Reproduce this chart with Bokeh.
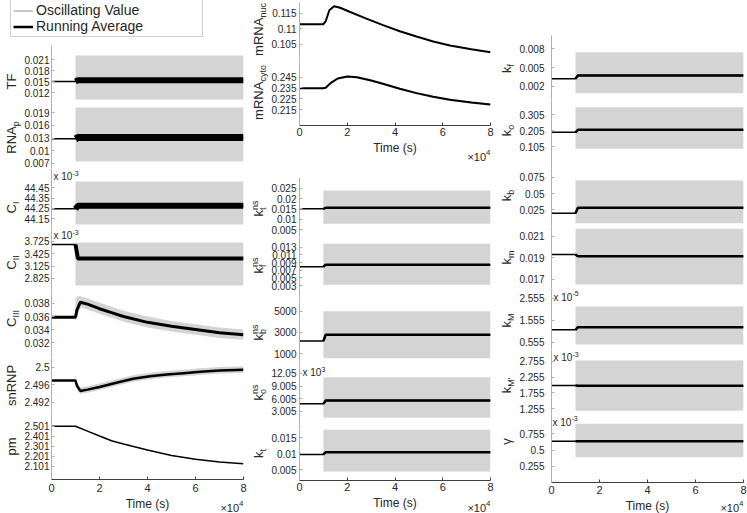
import math
from bokeh.plotting import figure
from bokeh.layouts import row, column
from bokeh.models import Range1d, FixedTicker, CustomJSTickFormatter, Label, Legend, LegendItem
from bokeh.embed import file_html
from bokeh.resources import INLINE

# ---------------- data ----------------
time_ticks = [0, 20000, 40000, 60000, 80000]
time_tick_labels = ["0", "2", "4", "6", "8"]

t_step = [0, 10000, 11000, 80000]      # running-average time points for step panels
t_band = [10000, 80000]                # span of the rapidly oscillating value

# left column
tf_avg = [0.0150, 0.0150, 0.01535, 0.01535]
tf_lo, tf_hi = [0.0101, 0.0101], [0.0221, 0.0221]
tf_ticks = [0.012, 0.015, 0.018, 0.021]
tf_labels = ["0.012", "0.015", "0.018", "0.021"]

rnap_avg = [0.0128, 0.0128, 0.0131, 0.0131]
rnap_lo, rnap_hi = [0.00747, 0.00747], [0.0202, 0.0202]
rnap_ticks = [0.007, 0.01, 0.013, 0.016, 0.019]
rnap_labels = ["0.007", "0.01", "0.013", "0.016", "0.019"]

ci_avg = [44.247, 44.247, 44.276, 44.276]          # x 10^-3
ci_lo, ci_hi = [44.095, 44.095], [44.511, 44.511]
ci_ticks = [44.15, 44.25, 44.35, 44.45]
ci_labels = ["44.15", "44.25", "44.35", "44.45"]

cii_avg = [3.652, 3.652, 3.311, 3.311]             # x 10^-3
cii_lo, cii_hi = [2.655, 2.655], [3.70, 3.70]
cii_ticks = [2.825, 3.125, 3.425, 3.725]
cii_labels = ["2.825", "3.125", "3.425", "3.725"]

t_c3 = [0, 10000, 10600, 12000, 15000, 20000, 25000, 30000, 40000, 50000, 60000, 70000, 80000]
c3_avg = [0.0359, 0.0359, 0.0370, 0.0382, 0.0379, 0.0372, 0.0366, 0.0360, 0.0351, 0.0345, 0.0340, 0.0335, 0.0332]
c3_lo = [0.0352, 0.0360, 0.0374, 0.0371, 0.0364, 0.0358, 0.0352, 0.0343, 0.0337, 0.0332, 0.0327, 0.0324]
c3_hi = [0.0388, 0.0391, 0.0391, 0.0388, 0.0381, 0.0375, 0.0369, 0.0360, 0.0353, 0.0348, 0.0343, 0.0340]
c3_ticks = [0.032, 0.034, 0.036, 0.038]
c3_labels = ["0.032", "0.034", "0.036", "0.038"]

t_sn = [0, 10000, 10600, 12000, 15000, 20000, 27000, 34000, 41000, 48000, 55000, 62000, 70000, 80000]
sn_avg = [2.4970, 2.4970, 2.4958, 2.4946, 2.4949, 2.4955, 2.4965, 2.4974, 2.4980, 2.4984, 2.4987, 2.4990, 2.4993, 2.4995]
sn_lo = [2.4962, 2.4950, 2.4939, 2.4942, 2.4948, 2.4958, 2.4967, 2.4973, 2.4977, 2.4980, 2.4983, 2.4986, 2.4988]
sn_hi = [2.4985, 2.4968, 2.4954, 2.4957, 2.4963, 2.4973, 2.4982, 2.4988, 2.4992, 2.4995, 2.4998, 2.5001, 2.5003]
sn_ticks = [2.492, 2.496, 2.5]
sn_labels = ["2.492", "2.496", "2.5"]

t_pm = [0, 10000, 15000, 20000, 25000, 30000, 40000, 50000, 60000, 70000, 80000]
pm_avg = [2.501, 2.501, 2.452, 2.403, 2.355, 2.323, 2.262, 2.208, 2.170, 2.143, 2.125]
pm_ticks = [2.101, 2.201, 2.301, 2.401, 2.501]
pm_labels = ["2.101", "2.201", "2.301", "2.401", "2.501"]

# middle column
t_nuc = [0, 10000, 11000, 12500, 14500, 17000, 21000, 28000, 35000, 42000, 49000, 56000, 63000, 72000, 80000]
nuc_avg = [0.1115, 0.1115, 0.1125, 0.1160, 0.1173, 0.1168, 0.1155, 0.1133, 0.1112, 0.1092, 0.1075, 0.1059, 0.1046, 0.1034, 0.1024]
nuc_ticks = [0.105, 0.11, 0.115]
nuc_labels = ["0.105", "0.11", "0.115"]

t_cyto = [0, 10000, 11000, 13000, 16000, 20000, 24000, 30000, 36000, 42000, 49000, 56000, 63000, 72000, 80000]
cyto_avg = [0.2348, 0.2348, 0.2352, 0.2395, 0.2438, 0.2456, 0.2450, 0.2420, 0.2382, 0.2342, 0.2302, 0.2268, 0.2240, 0.2214, 0.2196]
cyto_lo = [0.2338, 0.2342, 0.2385, 0.2428, 0.2446, 0.2440, 0.2410, 0.2372, 0.2332, 0.2292, 0.2258, 0.2230, 0.2204, 0.2186]
cyto_hi = [0.2358, 0.2362, 0.2405, 0.2448, 0.2466, 0.2460, 0.2430, 0.2392, 0.2352, 0.2312, 0.2278, 0.2250, 0.2224, 0.2206]
cyto_ticks = [0.215, 0.225, 0.235, 0.245]
cyto_labels = ["0.215", "0.225", "0.235", "0.245"]

ktns_avg = [0.0150, 0.0150, 0.0155, 0.0155]
ktns_lo, ktns_hi = [0.00776, 0.00776], [0.0239, 0.0239]
ktns_ticks = [0.005, 0.01, 0.015, 0.02, 0.025]
ktns_labels = ["0.005", "0.01", "0.015", "0.02", "0.025"]

kfns_avg = [0.0079, 0.0079, 0.0084, 0.0084]
kfns_lo, kfns_hi = [0.0032, 0.0032], [0.0139, 0.0139]
kfns_ticks = [0.003, 0.005, 0.007, 0.009, 0.011, 0.013]
kfns_labels = ["0.003", "0.005", "0.007", "0.009", "0.011", "0.013"]

kbns_avg = [2200, 2200, 2800, 2800]
kbns_lo, kbns_hi = [590, 590], [5000, 5000]
kbns_ticks = [1000, 3000, 5000]
kbns_labels = ["1000", "3000", "5000"]

kons_avg = [4.8, 4.8, 5.6, 5.6]                    # x 10^3
kons_lo, kons_hi = [1.52, 1.52], [11.07, 11.07]
kons_ticks = [3.005, 6.005, 9.005, 12.005]
kons_labels = ["3.005", "6.005", "9.005", "12.05"]

kt_avg = [0.0098, 0.0098, 0.0105, 0.0105]
kt_lo, kt_hi = [0.0044, 0.0044], [0.0176, 0.0176]
kt_ticks = [0.005, 0.01, 0.015]
kt_labels = ["0.005", "0.01", "0.015"]

# right column
kf_avg = [0.00322, 0.00322, 0.00375, 0.00375]
kf_lo, kf_hi = [0.00093, 0.00093], [0.00746, 0.00746]
kf_ticks = [0.002, 0.005, 0.008]
kf_labels = ["0.002", "0.005", "0.008"]

ko_avg = [0.194, 0.194, 0.209, 0.209]
ko_lo, ko_hi = [0.091, 0.091], [0.351, 0.351]
ko_ticks = [0.105, 0.205, 0.305]
ko_labels = ["0.105", "0.205", "0.305"]

kb_avg = [0.0197, 0.0197, 0.0281, 0.0281]
kb_lo, kb_hi = [0.00426, 0.00426], [0.0704, 0.0704]
kb_ticks = [0.025, 0.05, 0.075]
kb_labels = ["0.025", "0.05", "0.075"]

km_avg = [0.01931, 0.01931, 0.01915, 0.01915]
km_lo, km_hi = [0.0165, 0.0165], [0.02172, 0.02172]
km_ticks = [0.017, 0.019, 0.021]
km_labels = ["0.017", "0.019", "0.021"]

kM_avg = [1.119, 1.119, 1.237, 1.237]              # x 10^-5
kM_lo, kM_hi = [0.45, 0.45], [2.178, 2.178]
kM_ticks = [0.555, 1.555, 2.555]
kM_labels = ["0.555", "1.555", "2.555"]

kMp_avg = [1.989, 1.989, 1.985, 1.985]             # x 10^-3
kMp_lo, kMp_hi = [1.196, 1.196], [2.777, 2.777]
kMp_ticks = [1.255, 1.755, 2.255, 2.755]
kMp_labels = ["1.255", "1.755", "2.255", "2.755"]

gam_avg = [0.642, 0.642, 0.640, 0.640]             # x 10^-3
gam_lo, gam_hi = [0.397, 0.397], [0.908, 0.908]
gam_ticks = [0.255, 0.5, 0.755]
gam_labels = ["0.255", "0.5", "0.755"]

# ---------------- style ----------------
FONT = "Liberation Sans"
TXT = "#262626"
BAND = "#d4d4d4"
AXIS_Y = "#b0b0b0"
AXIS_X = "#404040"
MAIN, SUB = 13, 9
H = 513

CW = {'T': .611, 'F': .611, 'R': .722, 'N': .722, 'A': .667, 'C': .722, 'I': .278, 'P': .667,
      'M': .833, 'm': .833, 'n': .556, 'u': .556, 'c': .5, 'y': .5, 't': .278, 'o': .556,
      'p': .556, 's': .5, 'k': .5, 'f': .278, 'b': .556, "'": .191, 'γ': .5, 'x': .5,
      ' ': .278, '-': .333, '(': .333, ')': .333, 'i': .222, 'e': .556, '×': .584, '.': .278}


def tw(s, size):
    return sum(CW.get(c, .556) for c in s) * size


def lab(p, text, x, y, size, angle=0.0, align="left", xu="screen"):
    # (x, y) is the centre line of the text (text_baseline="middle")
    p.add_layout(Label(x=x, y=y, x_units=xu, y_units="screen", text=text, angle=angle,
                       text_align=align, text_baseline="middle", text_font=FONT,
                       text_font_size=f"{size}px", text_color=TXT))


def ylabel(p, groups, base_x, cy):
    """Rotated label; base_x = baseline of the main text (strip px), cy = centre (screen-up px)."""
    L = sum(max(tw(t, s) for t, s, _ in g) for g in groups)
    pos = cy - L / 2
    for g in groups:
        for t, s, sh in g:
            lab(p, t, base_x + sh - 0.3465 * s, pos, s, angle=math.pi / 2)
        pos += max(tw(t, s) for t, s, _ in g)


def htext(p, groups, sx, sy, align="left"):
    """Horizontal composite text; sy = visual centre of the main text (screen-up px)."""
    if align == "left":
        pos = sx
        for g in groups:
            for t, s, rise in g:
                lab(p, t, pos, sy + rise, s)
            pos += max(tw(t, s) for t, s, _ in g)
    else:
        pos = sx
        for g in reversed(groups):
            for t, s, rise in g:
                lab(p, t, pos, sy + rise, s, align="right")
            pos -= max(tw(t, s) for t, s, _ in g)


def tick_formatter(ticks, labels):
    return CustomJSTickFormatter(args=dict(t=ticks, l=labels), code="""
        let b = 0;
        for (let i = 1; i < t.length; i++) { if (Math.abs(t[i] - tick) < Math.abs(t[b] - tick)) b = i; }
        return l[b];""")


# panel figure geometry per column: (fig width, left border, right border, tick standoff)
COLS = {"L": (227, 30, 5, 2), "M": (228, 31, 6, 3), "R": (231, 35, 4, 7)}


def bare(width, height, lb=0, rb=0):
    p = figure(width=width, height=height, x_range=Range1d(0, 80000), y_range=Range1d(0, 1),
               output_backend="svg", toolbar_location=None, x_axis_location=None,
               y_axis_location=None, min_border_left=lb, min_border_right=rb,
               min_border_top=0, min_border_bottom=0,
               background_fill_color="white", border_fill_color="white")
    p.outline_line_color = None
    p.grid.visible = False
    return p


def panel(col, top, bot, yr, ticks, labels, bt=0, bb=0, xaxis=False, xstand=3):
    W, lb, rb, st = COLS[col]
    p = figure(width=W, height=bot - top + bt + bb, x_range=Range1d(0, 80000),
               y_range=Range1d(yr[0], yr[1]), output_backend="svg", toolbar_location=None,
               x_axis_location="below" if xaxis else None, y_axis_location="left",
               min_border_left=lb, min_border_right=rb, min_border_top=bt, min_border_bottom=bb,
               background_fill_color="white", border_fill_color="white")
    p.outline_line_color = None
    p.grid.visible = False
    ya = p.yaxis[0]
    ya.ticker = FixedTicker(ticks=ticks)
    ya.formatter = tick_formatter(ticks, labels)
    ya.axis_line_color = AXIS_Y
    ya.major_tick_line_color = AXIS_Y
    ya.major_tick_in, ya.major_tick_out = 3, 0
    ya.minor_tick_line_color = None
    ya.major_label_standoff = st
    ya.major_label_text_font = FONT
    ya.major_label_text_font_size = "10px"
    ya.major_label_text_color = TXT
    if xaxis:
        xa = p.xaxis[0]
        xa.ticker = FixedTicker(ticks=time_ticks)
        xa.formatter = tick_formatter(time_ticks, time_tick_labels)
        xa.axis_line_color = AXIS_X
        xa.major_tick_line_color = AXIS_X
        xa.major_tick_in, xa.major_tick_out = 3, 0
        xa.minor_tick_line_color = None
        xa.major_label_standoff = xstand
        xa.major_label_text_font = FONT
        xa.major_label_text_font_size = "11px"
        xa.major_label_text_color = TXT
    return p


def step(p, avg, lo, hi, lw_after, lw_before=1.5):
    p.varea(x=t_band, y1=lo, y2=hi, fill_color=BAND)
    p.line(t_step, avg, line_color="black", line_width=lw_before)
    p.line(t_step[1:], avg[1:], line_color="black", line_width=lw_after)


def time_strip(col, top, bot, cy_time, cy_exp):
    W, lb, rb, _ = COLS[col]
    s = bare(W, bot - top, lb, rb)
    lab(s, "Time (s)", 40000, bot - cy_time, 12, align="center", xu="data")
    htext(s, [[("×10", 11, 0)], [("4", 8, 4.5)]], W - lb - rb, bot - cy_exp, align="right")
    return s


def scale_note(p, exp, sx, sy):
    htext(p, [[("x 10", 10, 0)], [(exp, 7, 3.5)]], sx, sy)


def K(sub, sup=None):
    g2 = [(sub, SUB, 3)]
    if sup:
        g2.append((sup, SUB, -5))
    return [[("k", MAIN, 0)], g2]


# ---------------- left column ----------------
leg = bare(248, 45)
r_osc = leg.line([-2, -1], [-2, -1], line_color="#c8c8c8", line_width=2)
r_avg = leg.line([-2, -1], [-2, -1], line_color="black", line_width=2.5)
legend = Legend(items=[LegendItem(label="Oscillating Value", renderers=[r_osc]),
                       LegendItem(label="Running Average", renderers=[r_avg])],
                location=(10, 8), margin=0, padding=2, spacing=0, glyph_width=20,
                glyph_height=15, label_height=15, label_width=164, label_standoff=3,
                label_text_font=FONT, label_text_font_size="14px", label_text_color=TXT,
                border_line_color="#a0a0a0", border_line_width=1, background_fill_color="white")
leg.add_layout(legend)

p_tf = panel("L", 45, 103, (0.0090, 0.02482), tf_ticks, tf_labels)
step(p_tf, tf_avg, tf_lo, tf_hi, 6)
p_rnap = panel("L", 103, 168, (0.005823, 0.02112), rnap_ticks, rnap_labels)
step(p_rnap, rnap_avg, rnap_lo, rnap_hi, 7)
p_ci = panel("L", 168, 226, (44.07536, 44.63683), ci_ticks, ci_labels)
step(p_ci, ci_avg, ci_lo, ci_hi, 6)
scale_note(p_ci, "-3", 2, 226 - 176)
p_cii = panel("L", 226, 292, (2.4841, 4.08996), cii_ticks, cii_labels)
step(p_cii, cii_avg, cii_lo, cii_hi, 4)
scale_note(p_cii, "-3", 2, 292 - 235)
p_c3 = panel("L", 292, 352, (0.030462, 0.039692), c3_ticks, c3_labels)
p_c3.varea(x=t_c3[1:], y1=c3_lo, y2=c3_hi, fill_color=BAND)
p_c3.line(t_c3, c3_avg, line_color="black", line_width=3)
p_sn = panel("L", 352, 413, (2.489401, 2.503456), sn_ticks, sn_labels)
p_sn.varea(x=t_sn[1:], y1=sn_lo, y2=sn_hi, fill_color=BAND)
p_sn.line(t_sn, sn_avg, line_color="black", line_width=2.5)
p_pm = panel("L", 413, 479, (1.968, 2.628), pm_ticks, pm_labels, bb=17, xaxis=True, xstand=4)
p_pm.line(t_pm, pm_avg, line_color="black", line_width=1.5)
ts_l = time_strip("L", 496, 513, 503, 507)

strip_l = bare(21, 468)
for groups, cy in [([[("TF", MAIN, 0)]], 81), ([[("RNA", MAIN, 0)], [("p", SUB, 3)]], 137),
                   ([[("C", MAIN, 0)], [("I", SUB, 3)]], 207), ([[("C", MAIN, 0)], [("II", SUB, 3)]], 262),
                   ([[("C", MAIN, 0)], [("III", SUB, 3)]], 318), ([[("snRNP", MAIN, 0)]], 385),
                   ([[("pm", MAIN, 0)]], 446)]:
    ylabel(strip_l, groups, 16, H - cy)

block_left = column(leg, row(strip_l, column(p_tf, p_rnap, p_ci, p_cii, p_c3, p_sn, p_pm, ts_l)))

# ---------------- middle column ----------------
p_nuc = panel("M", 2, 62, (0.099129, 0.118484), nuc_ticks, nuc_labels, bt=2)
p_nuc.line(t_nuc, nuc_avg, line_color="black", line_width=2)
p_cyto = panel("M", 62, 125, (0.20015, 0.25865), cyto_ticks, cyto_labels, bb=15, xaxis=True, xstand=2)
p_cyto.varea(x=t_cyto[1:], y1=cyto_lo, y2=cyto_hi, fill_color=BAND)
p_cyto.line(t_cyto, cyto_avg, line_color="black", line_width=2)
ts_m1 = time_strip("M", 140, 177, 147, 156.5)

p_ktns = panel("M", 177, 237, (0.001126, 0.030182), ktns_ticks, ktns_labels)
step(p_ktns, ktns_avg, ktns_lo, ktns_hi, 2.5)
p_kfns = panel("M", 237, 298, (-0.000394, 0.015533), kfns_ticks, kfns_labels)
step(p_kfns, kfns_avg, kfns_lo, kfns_hi, 2.5)
p_kbns = panel("M", 298, 364, (-5, 6192), kbns_ticks, kbns_labels)
step(p_kbns, kbns_avg, kbns_lo, kbns_hi, 2.5)
p_kons = panel("M", 364, 424, (-0.054, 14.064), kons_ticks, kons_labels)
step(p_kons, kons_avg, kons_lo, kons_hi, 2.5)
htext(p_kons, [[("x 10", 10, 0)], [("3", 7, 3.5)]], 3, 424 - 372)
p_kt = panel("M", 424, 480, (0.001551, 0.019272), kt_ticks, kt_labels, bb=15, xaxis=True, xstand=2)
step(p_kt, kt_avg, kt_lo, kt_hi, 2.5)
ts_m2 = time_strip("M", 495, 513, 502.7, 507)

strip_m = bare(20, 513)
for groups, cy in [([[("mRNA", MAIN, 0)], [("nuc", SUB, 3)]], 29),
                   ([[("mRNA", MAIN, 0)], [("cyto", SUB, 3)]], 92),
                   (K("t", "ns"), 208), (K("f", "ns"), 265), (K("b", "ns"), 332),
                   (K("o", "ns"), 392), (K("t"), 453)]:
    ylabel(strip_m, groups, 14.8, H - cy)

block_mid = row(strip_m, column(p_nuc, p_cyto, ts_m1, p_ktns, p_kfns, p_kbns, p_kons, p_kt, ts_m2))

# ---------------- right column ----------------
p_kf = panel("R", 35, 100, (-0.000229, 0.010117), kf_ticks, kf_labels, bt=35)
step(p_kf, kf_avg, kf_lo, kf_hi, 2.5)
p_ko = panel("R", 100, 168, (-0.0325, 0.3925), ko_ticks, ko_labels)
step(p_ko, ko_avg, ko_lo, ko_hi, 2.5)
p_kb = panel("R", 168, 226, (-0.00085, 0.08893), kb_ticks, kb_labels)
step(p_kb, kb_avg, kb_lo, kb_hi, 2.5)
p_km = panel("R", 226, 288, (0.016127, 0.021937), km_ticks, km_labels)
step(p_km, km_avg, km_lo, km_hi, 2.5)
p_kM = panel("R", 288, 349, (0.2232, 2.9959), kM_ticks, kM_labels)
step(p_kM, kM_avg, kM_lo, kM_hi, 2.5)
scale_note(p_kM, "-5", 2, 349 - 296.5)
p_kMp = panel("R", 349, 414, (1.07516, 3.12374), kMp_ticks, kMp_labels)
step(p_kMp, kMp_avg, kMp_lo, kMp_hi, 2.5)
scale_note(p_kMp, "-3", 2, 414 - 357)
p_gam = panel("R", 414, 482, (0.0103, 1.05011), gam_ticks, gam_labels, bb=16, xaxis=True, xstand=3)
step(p_gam, gam_avg, gam_lo, gam_hi, 2.5)
scale_note(p_gam, "-3", 1, 482 - 421.5)
ts_r = time_strip("R", 498, 513, 505, 507)

strip_r = bare(20, 513)
for groups, cy in [(K("f"), 68), (K("o"), 130), (K("b"), 195), (K("m"), 257),
                   (K("M"), 320), (K("M'"), 385), ([[("γ", MAIN, 0)]], 441)]:
    ylabel(strip_r, groups, 15, H - cy)

block_right = row(strip_r, column(p_kf, p_ko, p_kb, p_km, p_kM, p_kMp, p_gam, ts_r))

layout = row(block_left, block_mid, block_right)
open("out.html", "w").write(file_html(layout, INLINE))
